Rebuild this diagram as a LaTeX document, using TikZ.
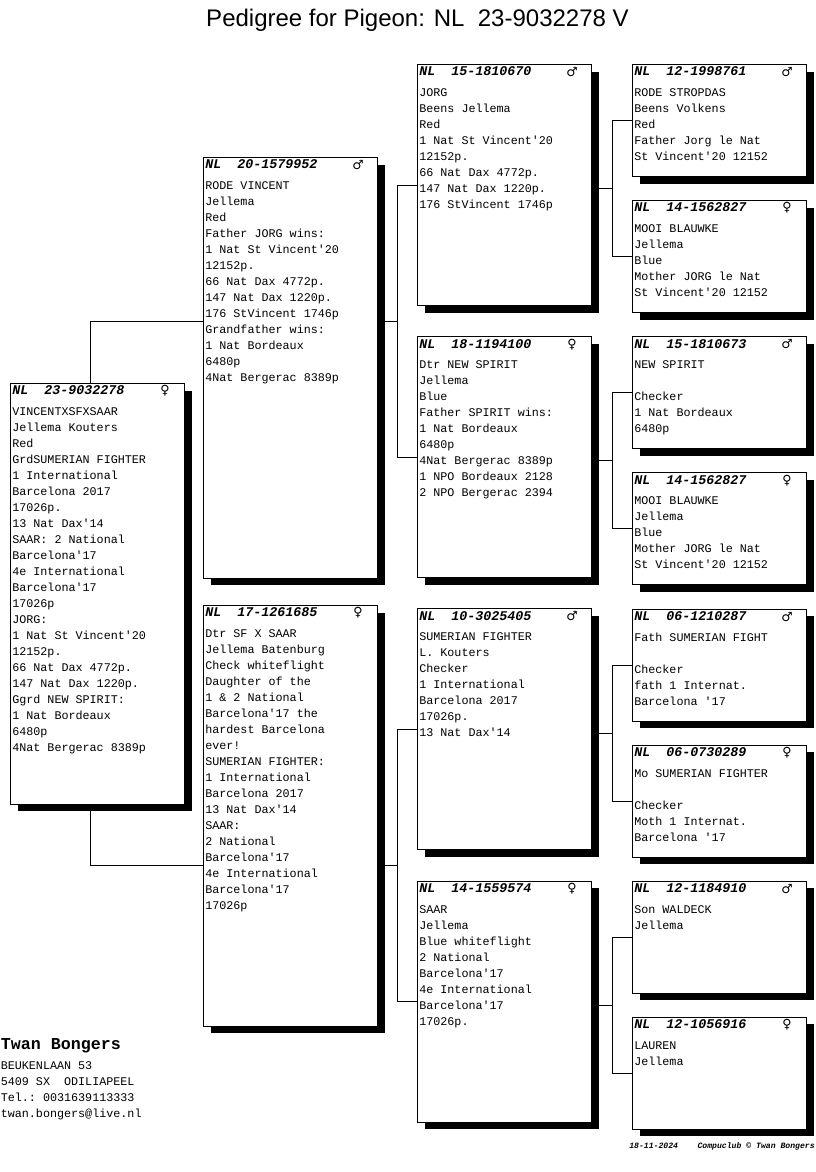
\documentclass[tikz,border=0pt]{standalone}
\usepackage{fontspec}
\setmainfont{Liberation Sans}
\setmonofont{Liberation Mono}
\newfontfamily\symfont{DejaVu Sans}
\usetikzlibrary{shadows,calc}
\tikzstyle{card} = [rectangle, draw, fill=white, line width=0.75pt, minimum width=130.5pt, inner sep=0pt, drop shadow={shadow xshift=5.25pt, shadow yshift=-5.25pt, fill=black, opacity=1}]
\tikzstyle{cardL} = [card, minimum height=315.5pt]
\tikzstyle{cardM} = [card, minimum height=180.75pt]
\tikzstyle{cardS} = [card, minimum height=84pt]
\tikzstyle{ringno} = [anchor=base west, inner sep=0pt, font=\fontsize{10pt}{12pt}\selectfont\ttfamily\bfseries\itshape]
\tikzstyle{sexsym} = [inner sep=0pt, font=\symfont\bfseries\fontsize{9.5pt}{10pt}\selectfont]
\tikzstyle{info} = [anchor=base west, inner sep=0pt, text width=127pt, align=flush left, execute at begin node={\spaceskip=0pt\xspaceskip=0pt}, font=\fontsize{8.8pt}{12pt}\selectfont\ttfamily]
\tikzstyle{link} = [draw, line width=0.75pt]

\begin{document}
\begin{tikzpicture}[x=0.75pt, y=-0.75pt]

\path[fill=white] (0,0) rectangle (816,1172);
\useasboundingbox (0,0) rectangle (816,1172);

\node[anchor=base, inner sep=0pt, font=\fontsize{18pt}{22pt}\selectfont] (title) at (417.5,26.5) {Pedigree for Pigeon: NL\ \ 23-9032278 V};

% pigeon
\node[cardL, anchor=north west] (subj) at (10,383) {};
\node[ringno] (subjr) at ([xshift=1.5pt,yshift=-8.85pt]subj.north west) {NL\ \ 23-9032278};
\node[sexsym] (subjs) at ([xshift=-15pt,yshift=-6pt]subj.north east) {♀};
\node[info] (subjt) at ([xshift=1.5pt,yshift=-24pt]subj.north west) {VINCENTXSFXSAAR\\ Jellema Kouters\\ Red\\ GrdSUMERIAN FIGHTER\\ 1 International\\ Barcelona 2017\\ 17026p.\\ 13 Nat Dax'14\\ SAAR: 2 National\\ Barcelona'17\\ 4e International\\ Barcelona'17\\ 17026p\\ JORG:\\ 1 Nat St Vincent'20\\ 12152p.\\ 66 Nat Dax 4772p.\\ 147 Nat Dax 1220p.\\ Ggrd NEW SPIRIT:\\ 1 Nat Bordeaux\\ 6480p\\ 4Nat Bergerac 8389p};

% parents
\node[cardL, anchor=north west] (sire) at (203,157) {};
\node[ringno] (sirer) at ([xshift=1.5pt,yshift=-8.85pt]sire.north west) {NL\ \ 20-1579952};
\node[sexsym] (sires) at ([xshift=-15pt,yshift=-6pt]sire.north east) {♂};
\node[info] (siret) at ([xshift=1.5pt,yshift=-24.4pt]sire.north west) {RODE VINCENT\\ Jellema\\ Red\\ Father JORG wins:\\ 1 Nat St Vincent'20\\ 12152p.\\ 66 Nat Dax 4772p.\\ 147 Nat Dax 1220p.\\ 176 StVincent 1746p\\ Grandfather wins:\\ 1 Nat Bordeaux\\ 6480p\\ 4Nat Bergerac 8389p};

\node[cardL, below of=sire, node distance=336pt] (dam) {};
\node[ringno] (damr) at ([xshift=1.5pt,yshift=-8.85pt]dam.north west) {NL\ \ 17-1261685};
\node[sexsym] (dams) at ([xshift=-15pt,yshift=-6pt]dam.north east) {♀};
\node[info] (damt) at ([xshift=1.5pt,yshift=-24.4pt]dam.north west) {Dtr SF X SAAR\\ Jellema Batenburg\\ Check whiteflight\\ Daughter of the\\ 1 \& 2 National\\ Barcelona'17 the\\ hardest Barcelona\\ ever!\\ SUMERIAN FIGHTER:\\ 1 International\\ Barcelona 2017\\ 13 Nat Dax'14\\ SAAR:\\ 2 National\\ Barcelona'17\\ 4e International\\ Barcelona'17\\ 17026p};

% grandparents
\node[cardM, anchor=north west] (ss) at (417,64) {};
\node[ringno] (ssr) at ([xshift=1.5pt,yshift=-8.85pt]ss.north west) {NL\ \ 15-1810670};
\node[sexsym] (sss) at ([xshift=-15pt,yshift=-6pt]ss.north east) {♂};
\node[info] (sst) at ([xshift=1.5pt,yshift=-24.4pt]ss.north west) {JORG\\ Beens Jellema\\ Red\\ 1 Nat St Vincent'20\\ 12152p.\\ 66 Nat Dax 4772p.\\ 147 Nat Dax 1220p.\\ 176 StVincent 1746p};

\node[cardM, below of=ss, node distance=204.15pt] (sd) {};
\node[ringno] (sdr) at ([xshift=1.5pt,yshift=-8.85pt]sd.north west) {NL\ \ 18-1194100};
\node[sexsym] (sds) at ([xshift=-15pt,yshift=-6pt]sd.north east) {♀};
\node[info] (sdt) at ([xshift=1.5pt,yshift=-24.4pt]sd.north west) {Dtr NEW SPIRIT\\ Jellema\\ Blue\\ Father SPIRIT wins:\\ 1 Nat Bordeaux\\ 6480p\\ 4Nat Bergerac 8389p\\ 1 NPO Bordeaux 2128\\ 2 NPO Bergerac 2394};

\node[cardM, below of=sd, node distance=204.15pt] (ds) {};
\node[ringno] (dsr) at ([xshift=1.5pt,yshift=-8.85pt]ds.north west) {NL\ \ 10-3025405};
\node[sexsym] (dss) at ([xshift=-15pt,yshift=-6pt]ds.north east) {♂};
\node[info] (dst) at ([xshift=1.5pt,yshift=-24.4pt]ds.north west) {SUMERIAN FIGHTER\\ L. Kouters\\ Checker\\ 1 International\\ Barcelona 2017\\ 17026p.\\ 13 Nat Dax'14};

\node[cardM, below of=ds, node distance=204.15pt] (dd) {};
\node[ringno] (ddr) at ([xshift=1.5pt,yshift=-8.85pt]dd.north west) {NL\ \ 14-1559574};
\node[sexsym] (dds) at ([xshift=-15pt,yshift=-6pt]dd.north east) {♀};
\node[info] (ddt) at ([xshift=1.5pt,yshift=-24.4pt]dd.north west) {SAAR\\ Jellema\\ Blue whiteflight\\ 2 National\\ Barcelona'17\\ 4e International\\ Barcelona'17\\ 17026p.};

% great-grandparents
\node[cardS, anchor=north west] (g1) at (632,64) {};
\node[ringno] (g1r) at ([xshift=1.5pt,yshift=-8.85pt]g1.north west) {NL\ \ 12-1998761};
\node[sexsym] (g1s) at ([xshift=-15pt,yshift=-6pt]g1.north east) {♂};
\node[info] (g1t) at ([xshift=1.5pt,yshift=-24.4pt]g1.north west) {RODE STROPDAS\\ Beens Volkens\\ Red\\ Father Jorg le Nat\\ St Vincent'20 12152};

\node[cardS, below of=g1, node distance=102.1pt] (g2) {};
\node[ringno] (g2r) at ([xshift=1.5pt,yshift=-8.85pt]g2.north west) {NL\ \ 14-1562827};
\node[sexsym] (g2s) at ([xshift=-15pt,yshift=-6pt]g2.north east) {♀};
\node[info] (g2t) at ([xshift=1.5pt,yshift=-24.4pt]g2.north west) {MOOI BLAUWKE\\ Jellema\\ Blue\\ Mother JORG le Nat\\ St Vincent'20 12152};

\node[cardS, below of=g2, node distance=102.1pt] (g3) {};
\node[ringno] (g3r) at ([xshift=1.5pt,yshift=-8.85pt]g3.north west) {NL\ \ 15-1810673};
\node[sexsym] (g3s) at ([xshift=-15pt,yshift=-6pt]g3.north east) {♂};
\node[info] (g3t) at ([xshift=1.5pt,yshift=-24.4pt]g3.north west) {NEW SPIRIT\\ \mbox{}\\ Checker\\ 1 Nat Bordeaux\\ 6480p};

\node[cardS, below of=g3, node distance=102.1pt] (g4) {};
\node[ringno] (g4r) at ([xshift=1.5pt,yshift=-8.85pt]g4.north west) {NL\ \ 14-1562827};
\node[sexsym] (g4s) at ([xshift=-15pt,yshift=-6pt]g4.north east) {♀};
\node[info] (g4t) at ([xshift=1.5pt,yshift=-24.4pt]g4.north west) {MOOI BLAUWKE\\ Jellema\\ Blue\\ Mother JORG le Nat\\ St Vincent'20 12152};

\node[cardS, below of=g4, node distance=102.1pt] (g5) {};
\node[ringno] (g5r) at ([xshift=1.5pt,yshift=-8.85pt]g5.north west) {NL\ \ 06-1210287};
\node[sexsym] (g5s) at ([xshift=-15pt,yshift=-6pt]g5.north east) {♂};
\node[info] (g5t) at ([xshift=1.5pt,yshift=-24.4pt]g5.north west) {Fath SUMERIAN FIGHT\\ \mbox{}\\ Checker\\ fath 1 Internat.\\ Barcelona '17};

\node[cardS, below of=g5, node distance=102.1pt] (g6) {};
\node[ringno] (g6r) at ([xshift=1.5pt,yshift=-8.85pt]g6.north west) {NL\ \ 06-0730289};
\node[sexsym] (g6s) at ([xshift=-15pt,yshift=-6pt]g6.north east) {♀};
\node[info] (g6t) at ([xshift=1.5pt,yshift=-24.4pt]g6.north west) {Mo SUMERIAN FIGHTER\\ \mbox{}\\ Checker\\ Moth 1 Internat.\\ Barcelona '17};

\node[cardS, below of=g6, node distance=102.1pt] (g7) {};
\node[ringno] (g7r) at ([xshift=1.5pt,yshift=-8.85pt]g7.north west) {NL\ \ 12-1184910};
\node[sexsym] (g7s) at ([xshift=-15pt,yshift=-6pt]g7.north east) {♂};
\node[info] (g7t) at ([xshift=1.5pt,yshift=-24.4pt]g7.north west) {Son WALDECK\\ Jellema};

\node[cardS, below of=g7, node distance=102.1pt] (g8) {};
\node[ringno] (g8r) at ([xshift=1.5pt,yshift=-8.85pt]g8.north west) {NL\ \ 12-1056916};
\node[sexsym] (g8s) at ([xshift=-15pt,yshift=-6pt]g8.north east) {♀};
\node[info] (g8t) at ([xshift=1.5pt,yshift=-24.4pt]g8.north west) {LAUREN\\ Jellema};

% connectors
\coordinate (m1) at ($(ss.west)!.5!(sd.west)$);
\coordinate (m2) at ($(ds.west)!.5!(dd.west)$);
\path[link] ([xshift=-5.25pt]subj.north) |- (sire.west |- m1);
\path[link] ([xshift=-5.25pt]subj.south) |- (dam.west |- m2);
\path[link] (ss.west) -- ++(-20,0) |- (sd.west);
\path[link] (sire.east |- m1) -- ++(20,0);
\path[link] (ds.west) -- ++(-20,0) |- (dd.west);
\path[link] (dam.east |- m2) -- ++(20,0);

\coordinate (m3) at ($(g1.west)!.5!(g2.west)$);
\coordinate (m4) at ($(g3.west)!.5!(g4.west)$);
\coordinate (m5) at ($(g5.west)!.5!(g6.west)$);
\coordinate (m6) at ($(g7.west)!.5!(g8.west)$);
\path[link] (g1.west) -- ++(-20,0) |- (g2.west);
\path[link] (ss.east |- m3) -- ++(21,0);
\path[link] (g3.west) -- ++(-20,0) |- (g4.west);
\path[link] (sd.east |- m4) -- ++(21,0);
\path[link] (g5.west) -- ++(-20,0) |- (g6.west);
\path[link] (ds.east |- m5) -- ++(21,0);
\path[link] (g7.west) -- ++(-20,0) |- (g8.west);
\path[link] (dd.east |- m6) -- ++(21,0);

% owner
\node[anchor=base west, inner sep=0pt, font=\fontsize{12.5pt}{14pt}\selectfont\ttfamily\bfseries] (owner) at (0.5,1049) {Twan Bongers};
\node[info, text width=200pt] (addr) at (0.5,1069.5) {BEUKENLAAN 53\\ 5409 SX\ \ ODILIAPEEL\\ Tel.: 0031639113333\\ twan.bongers@live.nl};
\node[anchor=base east, inner sep=0pt, font=\fontsize{6.1pt}{7pt}\selectfont\ttfamily\bfseries\itshape] (stamp) at (815,1148) {18-11-2024\ \ \ \ Compuclub © Twan Bongers};

\end{tikzpicture}
\end{document}
